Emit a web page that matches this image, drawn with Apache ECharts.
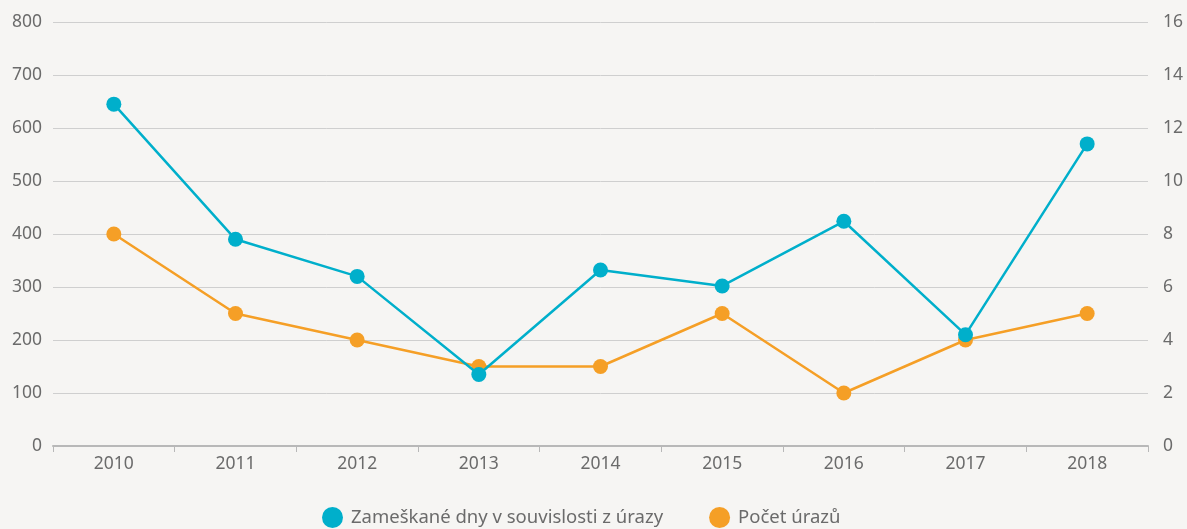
<!DOCTYPE html>
<html>
<head>
<meta charset="utf-8">
<script src="https://cdn.jsdelivr.net/npm/echarts@6/dist/echarts.min.js"></script>
<style>
  html, body { margin: 0; padding: 0; background: #f6f5f3; }
  #chart { width: 1187px; height: 529px; }
</style>
</head>
<body>
<div id="chart"></div>
<script>
  // roky na ose x
  const years = ['2010', '2011', '2012', '2013', '2014', '2015', '2016', '2017', '2018'];
  // zameškané dny (levá osa)
  const missedDays = [645, 390, 320, 135, 332, 302, 424, 210, 570];
  // počet úrazů (pravá osa)
  const injuries = [8, 5, 4, 3, 3, 5, 2, 4, 5];

  const blue = '#00afcb';
  const orange = '#f59f26';
  const font = '"Noto Sans", sans-serif';

  const chart = echarts.init(document.getElementById('chart'));
  chart.setOption({
    backgroundColor: '#f6f5f3',
    textStyle: { fontFamily: font },
    grid: { left: 53, right: 39, top: 22, bottom: 83 },
    legend: {
      bottom: 1,
      left: 322,
      padding: 0,
      itemGap: 46,
      itemWidth: 21,
      itemHeight: 21,
      icon: 'circle',
      textStyle: { color: '#6b6b6b', fontSize: 18.5, fontFamily: font, padding: [0, 0, 0, 3] },
      data: ['Zameškané dny v souvislosti z úrazy', 'Počet úrazů']
    },
    xAxis: {
      type: 'category',
      data: years,
      axisLine: { lineStyle: { color: '#b8b8b8', width: 2 } },
      axisTick: { show: true, length: 6, lineStyle: { color: '#b8b8b8', width: 1 } },
      axisLabel: { color: '#6b6b6b', fontSize: 17.5, margin: 9 }
    },
    yAxis: [
      {
        type: 'value',
        min: 0, max: 800, interval: 100,
        axisLine: { show: false },
        axisTick: { show: false },
        axisLabel: { color: '#6b6b6b', fontSize: 17.5, margin: 11 },
        splitLine: { lineStyle: { color: '#cfcfcf', width: 1 } }
      },
      {
        type: 'value',
        min: 0, max: 16, interval: 2,
        axisLine: { show: false },
        axisTick: { show: false },
        axisLabel: { color: '#6b6b6b', fontSize: 17.5, margin: 15 },
        splitLine: { show: false }
      }
    ],
    series: [
      {
        name: 'Zameškané dny v souvislosti z úrazy',
        type: 'line',
        yAxisIndex: 0,
        data: missedDays,
        symbol: 'circle',
        symbolSize: 15,
        itemStyle: { color: blue },
        lineStyle: { color: blue, width: 2.5 },
        z: 3
      },
      {
        name: 'Počet úrazů',
        type: 'line',
        yAxisIndex: 1,
        data: injuries,
        symbol: 'circle',
        symbolSize: 15,
        itemStyle: { color: orange },
        lineStyle: { color: orange, width: 2.5 },
        z: 2
      }
    ],
    animation: false
  });
</script>
</body>
</html>
